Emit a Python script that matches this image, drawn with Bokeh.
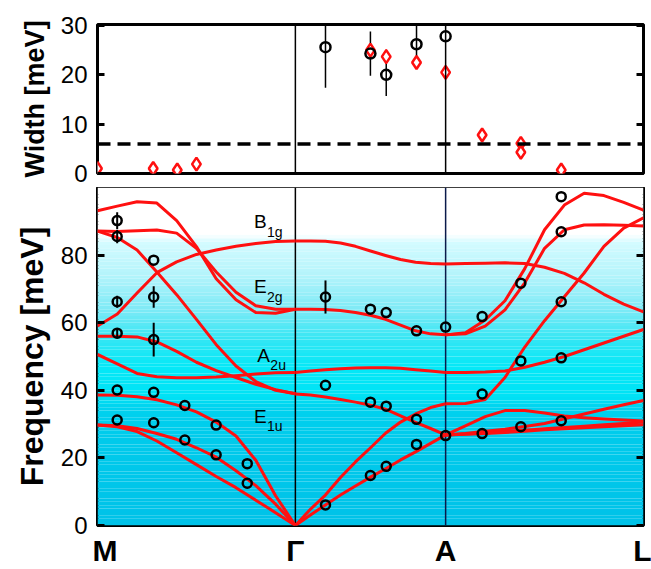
import numpy as np
from bokeh.plotting import figure
from bokeh.layouts import column
from bokeh.models import Range1d, LinearAxis, FixedTicker, Span
from bokeh.core.properties import value
from bokeh.embed import file_html
from bokeh.resources import INLINE

FONT = "Liberation Sans"

# high-symmetry points and their positions along the path (1/Angstrom)
sym_labels = ["\u2002M", "Γ", "A", "L"]
sym_pos = [0.0, 1.176, 2.069, 3.245]

# reduced wavevector along each segment (0 = left point, 1 = right point)
xi = [0.0, 0.1, 0.2, 0.3, 0.4, 0.5, 0.6, 0.7, 0.8, 0.9, 1.0]

# calculated branches, M -> Gamma (meV)
mg_b1 = [93.1, 94.5, 95.8, 95.4, 90.2, 82.5, 73.0, 66.8, 63.0, 62.8, 64.0]
mg_b2 = [87.1, 87.0, 87.2, 87.4, 86.5, 82.0, 75.0, 69.0, 65.0, 64.0, 64.0]
mg_c = [87.1, 85.2, 81.5, 75.0, 68.3, 61.0, 53.5, 47.2, 42.6, 40.0, 39.0]
mg_d = [59.0, 62.6, 68.8, 74.8, 78.0, 80.2, 81.5, 82.6, 83.4, 84.0, 84.2]
mg_e = [56.0, 56.0, 55.8, 54.3, 51.5, 48.3, 45.8, 43.8, 41.8, 40.2, 39.0]
mg_f = [50.6, 47.8, 45.0, 44.0, 43.7, 43.7, 43.9, 44.3, 44.8, 45.2, 45.3]
mg_g = [38.6, 38.5, 38.1, 37.2, 35.7, 33.6, 30.6, 26.5, 19.3, 8.8, 0.0]
mg_h = [29.7, 29.5, 28.7, 27.2, 25.5, 23.0, 20.2, 16.2, 11.8, 6.3, 0.0]
mg_i = [29.7, 29.2, 27.8, 25.0, 21.5, 18.0, 14.5, 11.2, 7.5, 3.8, 0.0]

# calculated branches, Gamma -> A (meV)
ga_b1g = [84.2, 84.2, 84.1, 83.6, 82.6, 81.2, 79.9, 78.7, 77.9, 77.5, 77.4]
ga_e2g = [64.0, 64.0, 63.9, 63.6, 63.0, 62.2, 61.0, 59.3, 57.6, 56.7, 56.4]
ga_a2u = [45.3, 45.7, 46.1, 46.4, 46.6, 46.7, 46.7, 46.5, 46.1, 45.7, 45.3]
ga_e1u = [38.9, 38.6, 38.0, 37.3, 36.5, 35.6, 34.4, 32.4, 30.5, 28.7, 26.8]
ga_ta = [0.0, 3.1, 6.1, 9.0, 11.7, 14.3, 16.8, 19.4, 21.8, 24.3, 26.8]
ga_la = [0.0, 4.8, 9.0, 14.2, 18.8, 23.0, 27.3, 30.6, 33.0, 34.9, 36.0]

# calculated branches, A -> L (meV)
al_1 = [77.4, 77.5, 77.6, 77.7, 77.5, 76.4, 74.6, 71.8, 68.4, 65.5, 63.2]
al_2 = [56.4, 57.0, 60.8, 66.5, 76.0, 87.5, 94.8, 98.3, 97.6, 95.6, 93.3]
al_3 = [56.4, 56.7, 59.0, 63.8, 71.8, 82.0, 87.5, 88.9, 89.0, 88.8, 88.6]
al_4 = [36.0, 36.1, 37.3, 43.8, 52.8, 60.6, 67.7, 74.7, 82.6, 88.0, 91.0]
al_5 = [45.3, 45.3, 45.4, 45.7, 46.8, 48.3, 50.0, 52.0, 54.0, 56.0, 58.0]
al_6 = [26.8, 29.5, 32.2, 34.0, 34.0, 33.3, 32.4, 31.9, 31.5, 31.2, 30.9]
al_7 = [26.8, 27.2, 27.9, 28.5, 29.3, 30.2, 31.6, 33.0, 34.4, 35.7, 37.0]
al_8 = [26.8, 27.1, 27.4, 27.8, 28.2, 28.6, 29.0, 29.4, 29.8, 30.2, 30.6]
al_9 = [26.8, 27.0, 27.2, 27.5, 27.9, 28.3, 28.6, 28.9, 29.2, 29.5, 29.8]

segments = [
    [mg_b1, mg_b2, mg_c, mg_d, mg_e, mg_f, mg_g, mg_h, mg_i],
    [ga_b1g, ga_e2g, ga_a2u, ga_e1u, ga_ta, ga_la],
    [al_1, al_2, al_3, al_4, al_5, al_6, al_7, al_8, al_9],
]

# measured phonon energies: path position, energy (meV), error (meV)
freq_q = [0.117, 0.117, 0.334, 0.117, 0.334, 0.117, 0.334,
          0.117, 0.334, 0.519, 0.705, 0.890,
          0.117, 0.334, 0.519, 0.705, 0.890,
          1.355, 1.622, 1.716, 1.896, 2.069,
          1.355, 1.622, 1.716, 1.896, 1.896, 1.716, 1.622, 1.355, 2.069,
          2.286, 2.516, 2.756, 2.756, 2.756, 2.516, 2.286, 2.756,
          2.286, 2.516, 2.756]
freq_e = [90.2, 85.5, 78.5, 66.2, 67.6, 56.9, 55.0,
          40.1, 39.4, 35.5, 29.7, 18.3,
          31.2, 30.4, 25.3, 20.9, 12.5,
          67.6, 64.0, 63.0, 57.6, 58.7,
          41.5, 36.5, 35.3, 31.4, 24.0, 17.5, 14.8, 6.1, 26.6,
          61.8, 71.7, 86.9, 97.3, 66.2, 48.7, 38.9, 49.6,
          27.2, 29.2, 31.0]
freq_err = [2.5, 2.0, 0.0, 1.8, 3.2, 1.5, 5.0,
            0, 0, 0, 0, 0,
            0, 0, 0, 0, 0,
            4.9, 0, 0, 0, 0,
            0, 0, 0, 0, 0, 0, 0, 0, 0,
            0, 0, 0, 0, 0, 0, 0, 0,
            0, 0, 0]

# measured linewidths (meV): two data sets
width_q_black = [1.355, 1.622, 1.716, 1.896, 2.069]
width_black = [25.6, 24.3, 20.0, 26.2, 27.8]
width_black_err = [8.2, 4.5, 4.3, 4.2, 0.0]

width_q_red = [0.0, 0.331, 0.474, 0.588, 1.622, 1.716, 1.896, 2.069, 2.286, 2.516, 2.516, 2.756]
width_red = [1.0, 1.0, 0.7, 1.9, 25.0, 23.7, 22.5, 20.5, 7.8, 6.1, 4.3, 0.7]
width_red_err = [0, 0, 0, 0, 0, 1.5, 0, 0, 0, 0, 0, 0]

# instrumental resolution (meV)
width_resolution = 6.0

# mode labels at Gamma
mode_names = ["B", "E", "A", "E"]
mode_subs = ["1g", "2g", "2u", "1u"]

RED = "#ff1010"
x_range = Range1d(sym_pos[0], sym_pos[-1])


def style_y(p, ticks, label, size):
    ax = p.yaxis[0]
    ax.ticker = FixedTicker(ticks=ticks)
    ax.axis_label = label
    ax.axis_label_text_font = FONT
    ax.axis_label_text_font_style = "bold"
    ax.axis_label_text_font_size = size
    ax.axis_label_text_color = "black"
    ax.axis_label_standoff = 8
    ax.major_label_text_font = FONT
    ax.major_label_text_font_size = "24px"
    ax.major_label_text_color = "black"
    ax.major_label_standoff = 10
    ax.major_tick_in = 7
    ax.major_tick_out = 0
    ax.major_tick_line_width = 3
    ax.minor_tick_line_color = None
    ax.axis_line_color = None
    right = LinearAxis(ticker=FixedTicker(ticks=ticks), major_tick_in=7, major_tick_out=0,
                       major_tick_line_width=3, minor_tick_line_color=None,
                       axis_line_color=None, major_label_text_font_size="1px",
                       major_label_text_alpha=0, major_label_standoff=0)
    p.add_layout(right, "right")


# ---------- linewidth panel ----------
top = figure(width=651, height=187, x_range=x_range, y_range=Range1d(0, 30.2),
             output_backend="svg", toolbar_location=None, x_axis_location=None,
             min_border_left=97, min_border_right=8, min_border_top=24, min_border_bottom=14,
             background_fill_color="white", border_fill_color="white")
top.grid.visible = False
top.outline_line_color = "black"
top.outline_line_width = 3
style_y(top, [0, 10, 20, 30], "Width [meV]", "27px")

for xp in sym_pos[1:3]:
    top.add_layout(Span(location=xp, dimension="height", line_color="black", line_width=1.5))
top.add_layout(Span(location=width_resolution, dimension="width", line_color="black",
                    line_width=3.5, line_dash="13 7"))

bq = [q for q, e in zip(width_q_black, width_black_err) if e > 0]
bl = [w - e for w, e in zip(width_black, width_black_err) if e > 0]
bh = [w + e for w, e in zip(width_black, width_black_err) if e > 0]
top.segment(bq, bl, bq, bh, line_color="black", line_width=1.5)
rq = [q for q, e in zip(width_q_red, width_red_err) if e > 0]
rl = [w - e for w, e in zip(width_red, width_red_err) if e > 0]
rh = [w + e for w, e in zip(width_red, width_red_err) if e > 0]
top.segment(rq, rl, rq, rh, line_color=RED, line_width=1.5)
top.scatter(width_q_red, width_red, marker="diamond", size=13, line_color=RED,
            line_width=2.5, fill_color="white")
top.scatter(width_q_black, width_black, marker="circle", size=10, line_color="black",
            line_width=2.5, fill_color=None)

# ---------- dispersion panel ----------
bot = figure(width=651, height=382, x_range=x_range, y_range=Range1d(0, 100),
             output_backend="svg", toolbar_location=None,
             min_border_left=97, min_border_right=8, min_border_top=0, min_border_bottom=44,
             background_fill_color="white", border_fill_color="white")
bot.grid.visible = False
bot.outline_line_color = "black"
bot.outline_line_width = 3
style_y(bot, [0, 20, 40, 60, 80], "Frequency [meV]", "32px")

xa = bot.xaxis[0]
xa.ticker = FixedTicker(ticks=sym_pos)
xa.major_label_overrides = {pos: lab for pos, lab in zip(sym_pos, sym_labels)}
xa.major_label_text_font = FONT
xa.major_label_text_font_style = "bold"
xa.major_label_text_font_size = "30px"
xa.major_label_text_color = "black"
xa.major_label_standoff = 8
xa.major_tick_in = 0
xa.major_tick_out = 0
xa.minor_tick_line_color = None
xa.axis_line_color = None

# vertical cyan gradient behind the dispersion
stops_e = [0, 25, 35, 38, 47, 55, 64, 74, 84, 86, 100]
stops_c = [(0, 194, 232), (0, 202, 235), (0, 210, 239), (0, 226, 245), (5, 232, 247),
           (51, 230, 244), (126, 234, 246), (179, 244, 251), (213, 251, 255),
           (255, 255, 255), (255, 255, 255)]
band_lo = np.arange(0, 100, 1.0)
band_mid = band_lo + 0.5
cols = []
for e in band_mid:
    rgb = [int(round(np.interp(e, stops_e, [c[k] for c in stops_c]))) for k in range(3)]
    cols.append("#%02x%02x%02x" % tuple(rgb))
bot.quad(left=sym_pos[0], right=sym_pos[-1], bottom=band_lo, top=band_lo + 1.0,
         fill_color=cols, line_color=None)

# dividers at Gamma and A
bot.segment([sym_pos[1], sym_pos[2]], [0, 0], [sym_pos[1], sym_pos[2]], [100, 100],
            line_color=["black", "#0a1a4a"], line_width=1.5)

xs, ys = [], []
for k, branches in enumerate(segments):
    x0, x1 = sym_pos[k], sym_pos[k + 1]
    qx = [x0 + t * (x1 - x0) for t in xi]
    for br in branches:
        xs.append(qx)
        ys.append(br)
bot.multi_line(xs, ys, line_color=RED, line_width=3, line_join="round")

eq = [q for q, e in zip(freq_q, freq_err) if e > 0]
el = [v - e for v, e in zip(freq_e, freq_err) if e > 0]
eh = [v + e for v, e in zip(freq_e, freq_err) if e > 0]
bot.segment(eq, el, eq, eh, line_color="black", line_width=2)
bot.scatter(freq_q, freq_e, marker="circle", size=9, line_color="black",
            line_width=2.5, fill_color=None)

# mode symmetry labels
lab_x = [0.93, 0.93, 0.95, 0.93]
lab_y = [89.9, 70.6, 50.3, 32.3]
bot.text(lab_x, lab_y, text=mode_names, text_font=value(FONT), text_font_size="19px",
         text_color="black", text_baseline="alphabetic", text_align="left")
bot.text(lab_x, lab_y, text=mode_subs, text_font=value(FONT), text_font_size="14px",
         text_color="black", text_baseline="alphabetic", text_align="left",
         x_offset=13, y_offset=10)

layout = column(top, bot, spacing=0)
open("out.html", "w").write(file_html(layout, INLINE))
